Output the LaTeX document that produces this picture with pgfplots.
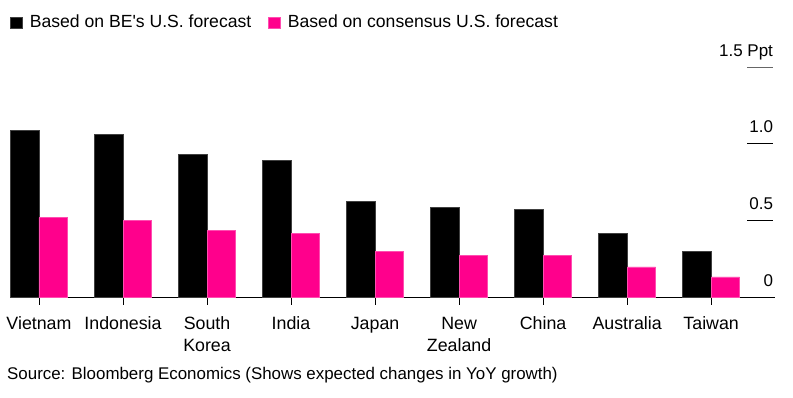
\documentclass[border=0pt]{standalone}
\usepackage{pgfplots}
\pgfplotsset{compat=1.18}
\usepackage{fontspec}
\setmainfont{Liberation Sans}
\definecolor{bpink}{HTML}{FF008C}
\definecolor{bpinkedge}{HTML}{FF4DB0}
\begin{document}
\fontsize{17}{22}\selectfont
\begin{tikzpicture}[x=1pt,y=1pt]
\useasboundingbox (0,0) rectangle (793,398);
\begin{axis}[
  at={(10pt,100.3pt)}, anchor=south west,
  scale only axis, width=765pt, height=230.7pt,
  xmin=-0.345, xmax=8.76, ymin=0, ymax=1.5,
  axis x line*=bottom, axis y line=none,
  x axis line style={black, line width=0.9pt},
  ybar, bar width=0.34,
  xtick={0,1,2,3,4,5,6,7,8},
  xticklabels={Vietnam,Indonesia,{South\\Korea},India,Japan,{New\\Zealand},China,Australia,Taiwan},
  xticklabel style={inner sep=0pt, anchor=north, yshift=-12pt, align=center, font=\fontsize{17.8}{22}\selectfont},
  tick align=outside, major tick length=7pt,
  tick style={black, line width=0.8pt},
  ytick=\empty,
  clip=false,
  legend columns=2,
  legend style={at={(0,1.234)}, anchor=north west, draw=none, fill=none, inner sep=0pt,
    font=\fontsize{17.6}{22}\selectfont,
    column sep=5pt, /tikz/every even column/.append style={column sep=15pt}},
  legend image code/.code={\fill[#1] (0pt,-5pt) rectangle (12pt,6pt);},
]
\addplot[fill=black, draw=black!75, line width=0.6pt, bar shift=-0.17] coordinates {
 (0,1.09) (1,1.06) (2,0.93) (3,0.895) (4,0.625) (5,0.585) (6,0.575) (7,0.42) (8,0.30)};
\addplot[fill=bpink, draw=bpinkedge, line width=0.6pt, bar shift=0.17] coordinates {
 (0,0.52) (1,0.50) (2,0.435) (3,0.42) (4,0.30) (5,0.273) (6,0.273) (7,0.20) (8,0.135)};
\legend{Based on BE\textquotesingle s U.S. forecast, Based on consensus U.S. forecast}
\draw[black!60, line width=0.9pt] (axis cs:8.43,1.5) -- (axis cs:8.738,1.5);
\draw[black, line width=0.9pt] (axis cs:8.43,1.0) -- (axis cs:8.738,1.0);
\draw[black, line width=0.9pt] (axis cs:8.43,0.5) -- (axis cs:8.738,0.5);
\node[anchor=base east, inner sep=0pt, yshift=10.3pt] at (axis cs:8.738,1.5) {1.5 Ppt};
\node[anchor=base east, inner sep=0pt, yshift=11pt] at (axis cs:8.738,1.0) {1.0};
\node[anchor=base east, inner sep=0pt, yshift=11pt] at (axis cs:8.738,0.5) {0.5};
\node[anchor=base east, inner sep=0pt, yshift=11pt] at (axis cs:8.738,0) {0};
\end{axis}
\node[anchor=base west, inner sep=0pt] at (7,18.5) {\fontsize{16.9}{20}\selectfont Source: Bloomberg Economics (Shows expected changes in YoY growth)};
\end{tikzpicture}
\end{document}
